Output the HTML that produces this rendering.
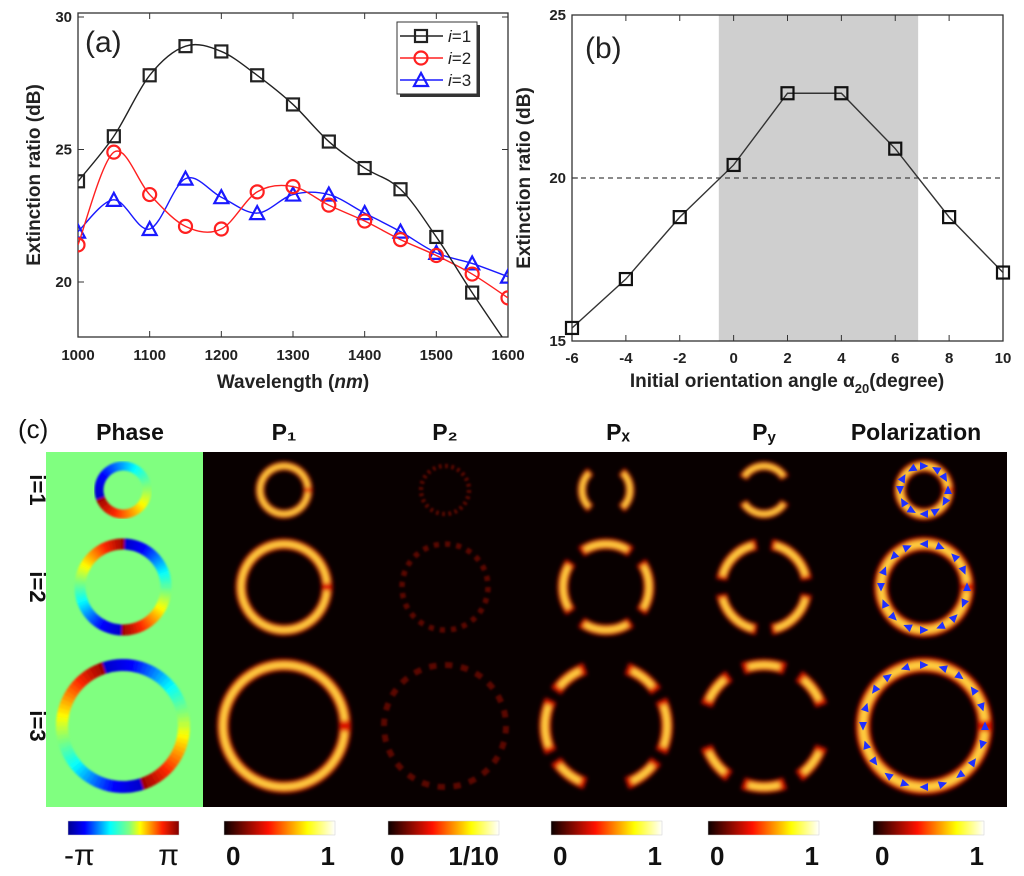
<!DOCTYPE html>
<html><head><meta charset="utf-8">
<style>
body{margin:0;background:#fff;}
svg{display:block;font-family:"Liberation Sans",Arial,sans-serif;}
.tk{font-size:15px;font-weight:bold;fill:#222;}
.ttl{font-size:19px;font-weight:bold;fill:#222;}
</style></head>
<body>
<svg id="fig" width="1024" height="876" viewBox="0 0 1024 876">
<defs>
<filter id="blur" x="-20%" y="-20%" width="140%" height="140%"><feGaussianBlur stdDeviation="2"/></filter>
<filter id="blur1"><feGaussianBlur stdDeviation="1"/></filter>
<clipPath id="clipA"><rect x="78" y="13" width="430" height="324"/></clipPath>
<linearGradient id="jet" x1="0" x2="1"><stop offset="0" stop-color="#00008f"/><stop offset="0.15" stop-color="#0000ff"/><stop offset="0.38" stop-color="#00ffff"/><stop offset="0.55" stop-color="#80ff80"/><stop offset="0.65" stop-color="#ffff00"/><stop offset="0.85" stop-color="#ff2000"/><stop offset="1" stop-color="#800000"/></linearGradient>
<linearGradient id="hot" x1="0" x2="1"><stop offset="0" stop-color="#0a0000"/><stop offset="0.4" stop-color="#ff1000"/><stop offset="0.75" stop-color="#ffff00"/><stop offset="1" stop-color="#ffffff"/></linearGradient>
</defs>
<g id="pa"></g>
<g id="pb"></g>
<g id="pc"></g>
</svg>
<script>
// ---- Panel (a) data ----
const wavelengths=[1000,1050,1100,1150,1200,1250,1300,1350,1400,1450,1500,1550,1600];
const er_i1=[23.8,25.5,27.8,28.9,28.7,27.8,26.7,25.3,24.3,23.5,21.7,19.6,17.6];
const er_i2=[21.4,24.9,23.3,22.1,22.0,23.4,23.6,22.9,22.3,21.6,21.0,20.3,19.4];
const er_i3=[21.9,23.1,22.0,23.9,23.2,22.6,23.3,23.3,22.6,21.9,21.1,20.7,20.2];
const xTicksA=[1000,1100,1200,1300,1400,1500,1600];
const yTicksA=[20,25,30];
// ---- Panel (b) data ----
const angles=[-6,-4,-2,0,2,4,6,8,10];
const er_b=[15.4,16.9,18.8,20.4,22.6,22.6,20.9,18.8,17.1];
const xTicksB=[-6,-4,-2,0,2,4,6,8,10];
const yTicksB=[15,20,25];
const shadeRange=[-0.55,6.85];
const threshold=20;

const NS="http://www.w3.org/2000/svg";
function mk(tag,attrs,parent,txt){const e=document.createElementNS(NS,tag);for(const k in attrs)e.setAttribute(k,attrs[k]);if(txt!==undefined)e.textContent=txt;parent.appendChild(e);return e;}

const xa=v=>78+(v-1000)/600*430;
const ya=v=>282-(v-20)*26.5;
const xb=v=>572+(v+6)/16*431;
const yb=v=>341-(v-15)*32.6;

function spline(pts){let d=`M${pts[0][0]},${pts[0][1]}`;for(let i=0;i<pts.length-1;i++){const p0=pts[Math.max(0,i-1)],p1=pts[i],p2=pts[i+1],p3=pts[Math.min(pts.length-1,i+2)];const c1=[p1[0]+(p2[0]-p0[0])/6,p1[1]+(p2[1]-p0[1])/6],c2=[p2[0]-(p3[0]-p1[0])/6,p2[1]-(p3[1]-p1[1])/6];d+=` C${c1[0]},${c1[1]} ${c2[0]},${c2[1]} ${p2[0]},${p2[1]}`;}return d;}

function marker(g,type,x,y,color,name){let e;
 if(type==='sq'){e=mk('rect',{x:x-6,y:y-6,width:12,height:12,fill:'none',stroke:color,'stroke-width':2.2},g);}
 else if(type==='ci'){e=mk('circle',{cx:x,cy:y,r:6.5,fill:'none',stroke:color,'stroke-width':2.2},g);}
 else {e=mk('polygon',{points:`${x},${y-7} ${x-7},${y+6} ${x+7},${y+6}`,fill:'none',stroke:color,'stroke-width':2.2},g);}
 
 }

// Panel A
(function(){const g=document.getElementById('pa');
 const frame=mk('rect',{x:78,y:13,width:430,height:324,fill:'none',stroke:'#333','stroke-width':1.3},g);
 
 
 xTicksA.forEach(v=>{mk('line',{x1:xa(v),x2:xa(v),y1:337,y2:331,stroke:'#333'},g);mk('line',{x1:xa(v),x2:xa(v),y1:13,y2:19,stroke:'#333'},g);
  const t=mk('text',{x:xa(v),y:360,'text-anchor':'middle',class:'tk'},g,v);
  
  });
 yTicksA.forEach(v=>{mk('line',{x1:78,x2:84,y1:ya(v),y2:ya(v),stroke:'#333'},g);mk('line',{x1:508,x2:502,y1:ya(v),y2:ya(v),stroke:'#333'},g);
  const t=mk('text',{x:72,y:ya(v)+5,'text-anchor':'end',class:'tk'},g,v);
  
  });
 const series=[[er_i3,'#1a1aff','tr','i3'],[er_i2,'#ff2020','ci','i2'],[er_i1,'#222','sq','i1']];
 const cg=mk('g',{'clip-path':'url(#clipA)'},g);
 series.forEach(([vals,col,m,nm])=>{const pts=wavelengths.map((w,i)=>[xa(w),ya(vals[i])]);
  const p=mk('path',{d:spline(pts),fill:'none',stroke:col,'stroke-width':1.4},cg);
  
  
  pts.forEach(pt=>marker(cg,m,pt[0],pt[1],col,'point-'+nm));});
 const t1=mk('text',{x:85,y:52,style:'font-size:30px;fill:#222'},g,'(a)');
 
 const xt=mk('text',{x:293,y:388,'text-anchor':'middle',class:'ttl'},g);
 xt.innerHTML='Wavelength (<tspan font-style="italic">nm</tspan>)';
 
 const yt=mk('text',{x:0,y:0,'text-anchor':'middle',class:'ttl',transform:'translate(40,175) rotate(-90)'},g,'Extinction ratio (dB)');
 
 const lg=mk('g',{},g);
 mk('rect',{x:400,y:25,width:80,height:72,fill:'#333'},lg);
 mk('rect',{x:397,y:22,width:80,height:72,fill:'#fff',stroke:'#333'},lg);
 [['sq','#222','1'],['ci','#ff2020','2'],['tr','#1a1aff','3']].forEach(([m,c,n],k)=>{const y=36+k*22;
  mk('line',{x1:400,x2:443,y1:y,y2:y,stroke:c,'stroke-width':1.4},lg);marker(lg,m,421,y,c,'legend-marker');
  const t=mk('text',{x:448,y:y+6,style:'font-size:17px;fill:#222'},lg);t.innerHTML='<tspan font-style="italic">i</tspan>=' + n;
  });
})();

// Panel B
(function(){const g=document.getElementById('pb');
 const sh=mk('rect',{x:xb(shadeRange[0]),y:15,width:xb(shadeRange[1])-xb(shadeRange[0]),height:326,fill:'#cfcfcf'},g);
 
 const fr=mk('rect',{x:572,y:15,width:431,height:326,fill:'none',stroke:'#333','stroke-width':1.3},g);
 
 const th=mk('line',{x1:572,x2:1003,y1:yb(threshold),y2:yb(threshold),stroke:'#444','stroke-width':1.3,'stroke-dasharray':'5,4'},g);
 
 xTicksB.forEach(v=>{mk('line',{x1:xb(v),x2:xb(v),y1:341,y2:335,stroke:'#333'},g);mk('line',{x1:xb(v),x2:xb(v),y1:15,y2:21,stroke:'#333'},g);
  const t=mk('text',{x:xb(v),y:363,'text-anchor':'middle',class:'tk'},g,v);
  });
 yTicksB.forEach(v=>{mk('line',{x1:572,x2:578,y1:yb(v),y2:yb(v),stroke:'#333'},g);
  const t=mk('text',{x:566,y:yb(v)+5,'text-anchor':'end',class:'tk'},g,v);
  });
 const pts=angles.map((a,i)=>[xb(a),yb(er_b[i])]);
 const l=mk('polyline',{points:pts.map(p=>p.join(',')).join(' '),fill:'none',stroke:'#333','stroke-width':1.4},g);
 
 pts.forEach(p=>marker(g,'sq',p[0],p[1],'#111','point-b'));
 const t1=mk('text',{x:585,y:58,style:'font-size:30px;fill:#222'},g,'(b)');
 
 const xt=mk('text',{x:787,y:387,'text-anchor':'middle',class:'ttl'},g);
 xt.innerHTML='Initial orientation angle α<tspan font-size="13" dy="6">20</tspan><tspan dy="-6">(degree)</tspan>';
 
 const yt=mk('text',{x:0,y:0,'text-anchor':'middle',class:'ttl',transform:'translate(530,178) rotate(-90)'},g,'Extinction ratio (dB)');
 
})();

// Panel C
function jet(t){t=((t%1)+1)%1;const s=[[0,[0,0,200]],[0.15,[0,0,255]],[0.38,[0,255,255]],[0.55,[150,255,100]],[0.65,[255,255,0]],[0.85,[255,40,0]],[1,[150,0,0]]];
 for(let i=0;i<s.length-1;i++){if(t<=s[i+1][0]){const f=(t-s[i][0])/(s[i+1][0]-s[i][0]);const c=s[i][1].map((v,k)=>Math.round(v+(s[i+1][1][k]-v)*f));return `rgb(${c})`;}}return 'rgb(150,0,0)';}
function arc(g,cx,cy,r,a0,a1,col,w){const p=a=>[cx+r*Math.cos(a*Math.PI/180),cy+r*Math.sin(a*Math.PI/180)];const s=p(a0),e=p(a1);
 const el=mk('path',{d:`M${s[0]},${s[1]} A${r},${r} 0 ${a1-a0>180?1:0} 1 ${e[0]},${e[1]}`,fill:'none',stroke:col,'stroke-width':w},g);return el;}
function heatRing(g,cx,cy,r,w,arcs){const gg=mk('g',{filter:'url(#blur)'},g);
 (arcs||[[0,359.9]]).forEach(([a,b])=>{arc(gg,cx,cy,r,a,b,'#e01800',w);arc(gg,cx,cy,r,a+5,b-5,'#ffd040',w*0.5);});}
(function(){const g=document.getElementById('pc');
 const bg=mk('rect',{x:203,y:452,width:804,height:355,fill:'#080000'},g);
 
 const gr=mk('rect',{x:46,y:452,width:157,height:355,fill:'#80ff80'},g);
 
 const rows=[[490,24,9,1,200],[587,43,11,2,-90],[726,61,12,2,-70]];
 const cols=[123,284,445,606,764,924];
 rows.forEach(([cy,r,w,n,off])=>{const gg=mk('g',{filter:'url(#blur1)'},g);
  for(let a=0;a<360;a+=4){arc(gg,cols[0],cy,r,a,a+5,jet(n*(a+off)/360),w);}});
 rows.forEach(([cy,r,w])=>{const gg=mk('g',{},g);heatRing(gg,cols[1],cy,r,w);});
 rows.forEach(([cy,r,w])=>{const gg=mk('g',{filter:'url(#blur1)',opacity:0.55},g);
  for(let a=0;a<360;a+=15)arc(gg,cols[2],cy,r,a,a+7,'#a01000',w*0.5);});
 const pxArcs=[[[-50,50],[130,230]],[[-35,35],[145,215],[235,305],[55,125]],[[-25,25],[155,205],[215,250],[290,325],[35,70],[110,145]]];
 rows.forEach(([cy,r,w],k)=>{const gg=mk('g',{},g);heatRing(gg,cols[3],cy,r,w,pxArcs[k]);});
 const pyArcs=[[[30,150],[210,330]],[[10,80],[100,170],[190,260],[280,350]],[[250,290],[70,110],[20,55],[125,160],[200,235],[305,340]]];
 rows.forEach(([cy,r,w],k)=>{const gg=mk('g',{},g);heatRing(gg,cols[4],cy,r,w,pyArcs[k]);});
 rows.forEach(([cy,r,w],k)=>{const gg=mk('g',{},g);heatRing(gg,cols[5],cy,r,w+3);
  const n=[12,16,20][k];for(let i=0;i<n;i++){const a=i/n*2*Math.PI;const x=cols[5]+r*Math.cos(a),y=cy+r*Math.sin(a);
   mk('polygon',{points:`${x-4},${y-4} ${x+4.5},${y} ${x-4},${y+4}`,fill:'#2030ff',transform:`rotate(${a*180/Math.PI+90*(i%2?1:-1)} ${x} ${y})`},gg);}});
 const hd=[['Phase',130,'phase'],['P₁',284,'p1'],['P₂',445,'p2'],['Pₓ',618,'px'],['P',764,'py'],['Polarization',916,'polarization']];
 hd.forEach(([t,x,nm])=>{const e=mk('text',{x:x,y:440,'text-anchor':'middle',style:'font-size:23px;font-weight:bold;fill:#111'},g,t);
  if(nm==='py'){e.innerHTML='P<tspan font-size="15" dy="2">y</tspan>';}
  });
 const cl=mk('text',{x:18,y:438,style:'font-size:26px;fill:#111'},g,'(c)');
 
 [['i=1',490],['i=2',587],['i=3',726]].forEach(([t,y])=>{const e=mk('text',{x:0,y:0,'text-anchor':'middle',transform:`translate(30,${y}) rotate(90)`,style:'font-size:22px;font-weight:bold;fill:#111'},g,t);
  });
 const cbs=[[68,'url(#jet)','-π','π','phase'],[224,'url(#hot)','0','1','p1'],[388,'url(#hot)','0','1/10','p2'],[551,'url(#hot)','0','1','px'],[708,'url(#hot)','0','1','py'],[873,'url(#hot)','0','1','polarization']];
 cbs.forEach(([x,f,a,b,nm])=>{const cb=mk('rect',{x:x,y:821,width:111,height:14,fill:f,stroke:'#ccc','stroke-width':0.5},g);
  
  const s=nm==='phase'?'font-size:30px;fill:#111':'font-size:26px;font-weight:bold;fill:#111';
  const t1=mk('text',{x:x+(nm==='phase'?-4:2),y:865,style:s},g,a);
  const t2=mk('text',{x:x+111,y:865,'text-anchor':'end',style:s},g,b);});
})();
</script>
</body></html>
